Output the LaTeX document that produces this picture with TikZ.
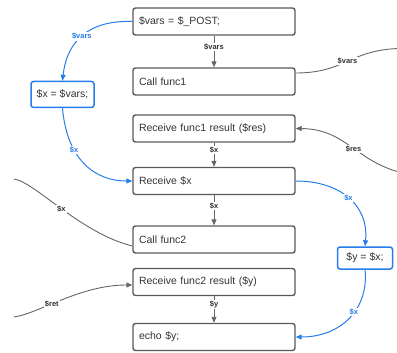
\documentclass[tikz,border=0pt]{standalone}
\usepackage{fontspec}
\setmainfont{Liberation Sans}
\usetikzlibrary{arrows.meta}
\definecolor{boxgray}{HTML}{595959}
\definecolor{txtgray}{HTML}{333333}
\definecolor{linegray}{HTML}{666666}
\definecolor{lblue}{HTML}{267DEB}
\tikzset{
  x=1pt,y=-1pt,
  stepbox/.style={draw=boxgray,line width=1.4pt,rounded corners=2.5pt,text=txtgray,
    minimum height=27pt,text width=150pt,inner xsep=6pt,align=left,font=\fontsize{10.5}{12}\selectfont},
  bluebox/.style={draw=lblue,line width=1.5pt,rounded corners=2.5pt,text=txtgray,
    inner sep=0pt,align=center,font=\fontsize{10.5}{12}\selectfont},
  garrow/.style={draw=linegray,line width=0.9pt,-{Triangle[length=6pt,width=5pt]}},
  gline/.style={draw=linegray,line width=0.9pt},
  barrow/.style={draw=lblue,line width=1pt,-{Triangle[length=6pt,width=5pt]}},
  glbl/.style={fill=white,inner sep=1pt,text=txtgray,font=\fontsize{7.5}{8}\selectfont\bfseries},
  blbl/.style={fill=white,inner sep=1pt,text=lblue,font=\fontsize{7.5}{8}\selectfont\bfseries},
}
\begin{document}
\begin{tikzpicture}
\useasboundingbox (0,0) rectangle (397,353);
\node[stepbox] (b1) at (214,21.5) {\$vars = \$\_POST;};
\node[stepbox] (b2) at (214,81.5) {Call func1};
\node[stepbox] (b3) at (214,128.5) {Receive func1 result (\$res)};
\node[stepbox] (b4) at (214,181) {Receive \$x};
\node[stepbox] (b5) at (214,239.5) {Call func2};
\node[stepbox] (b6) at (214,282) {Receive func2 result (\$y)};
\node[stepbox] (b7) at (214,337) {echo \$y;};
\node[bluebox,minimum width=63pt,minimum height=26pt] (lb) at (62.5,94.5) {\$x = \$vars;};
\node[bluebox,minimum width=55pt,minimum height=22pt] (rb) at (365,258) {\$y = \$x;};

\coordinate (c1) at (399,48.5);
\coordinate (c2) at (399,172);
\coordinate (c3) at (14,179);
\coordinate (c4) at (14,317);

% vertical arrows
\draw[garrow] (b1.south) -- node[glbl,pos=0.35] {\$vars} (b2.north);
\draw[garrow] (b3.south) -- node[glbl,pos=0.3] {\$x} (b4.north);
\draw[garrow] (b4.south) -- node[glbl,pos=0.35] {\$x} (b5.north);
\draw[garrow] (b6.south) -- node[glbl,pos=0.3] {\$y} (b7.north);

% blue curves
\draw[barrow] (b1.west) .. controls (90,20) and (67,40) .. node[blbl,pos=0.52] {\$vars} (lb.north);
\draw[barrow] (lb.south) .. controls (67,160) and (95,181) .. node[blbl,pos=0.33] {\$x} (b4.west);
\draw[barrow] (b4.east) .. controls (340,181) and (369,205) .. node[blbl,pos=0.5] {\$x} (rb.north);
\draw[barrow] (rb.south) .. controls (369,310) and (340,337) .. node[blbl,pos=0.42] {\$x} (b7.east);

% gray curves
\draw[gline] ([yshift=8.5pt]b2.east) .. controls (345,73) and (350,50) .. node[glbl,pos=0.5] {\$vars} (c1);
\draw[garrow] (c2) .. controls (355,160) and (345,129) .. node[glbl,pos=0.45] {\$res} (b3.east);
\draw[gline] (c3) .. controls (35,182) and (80,233) .. node[glbl,pos=0.5] {\$x} ([yshift=-6.5pt]b5.west);
\draw[garrow] (c4) .. controls (40,313) and (80,285) .. node[glbl,pos=0.4] {\$ret} ([yshift=-3pt]b6.west);
\end{tikzpicture}
\end{document}
